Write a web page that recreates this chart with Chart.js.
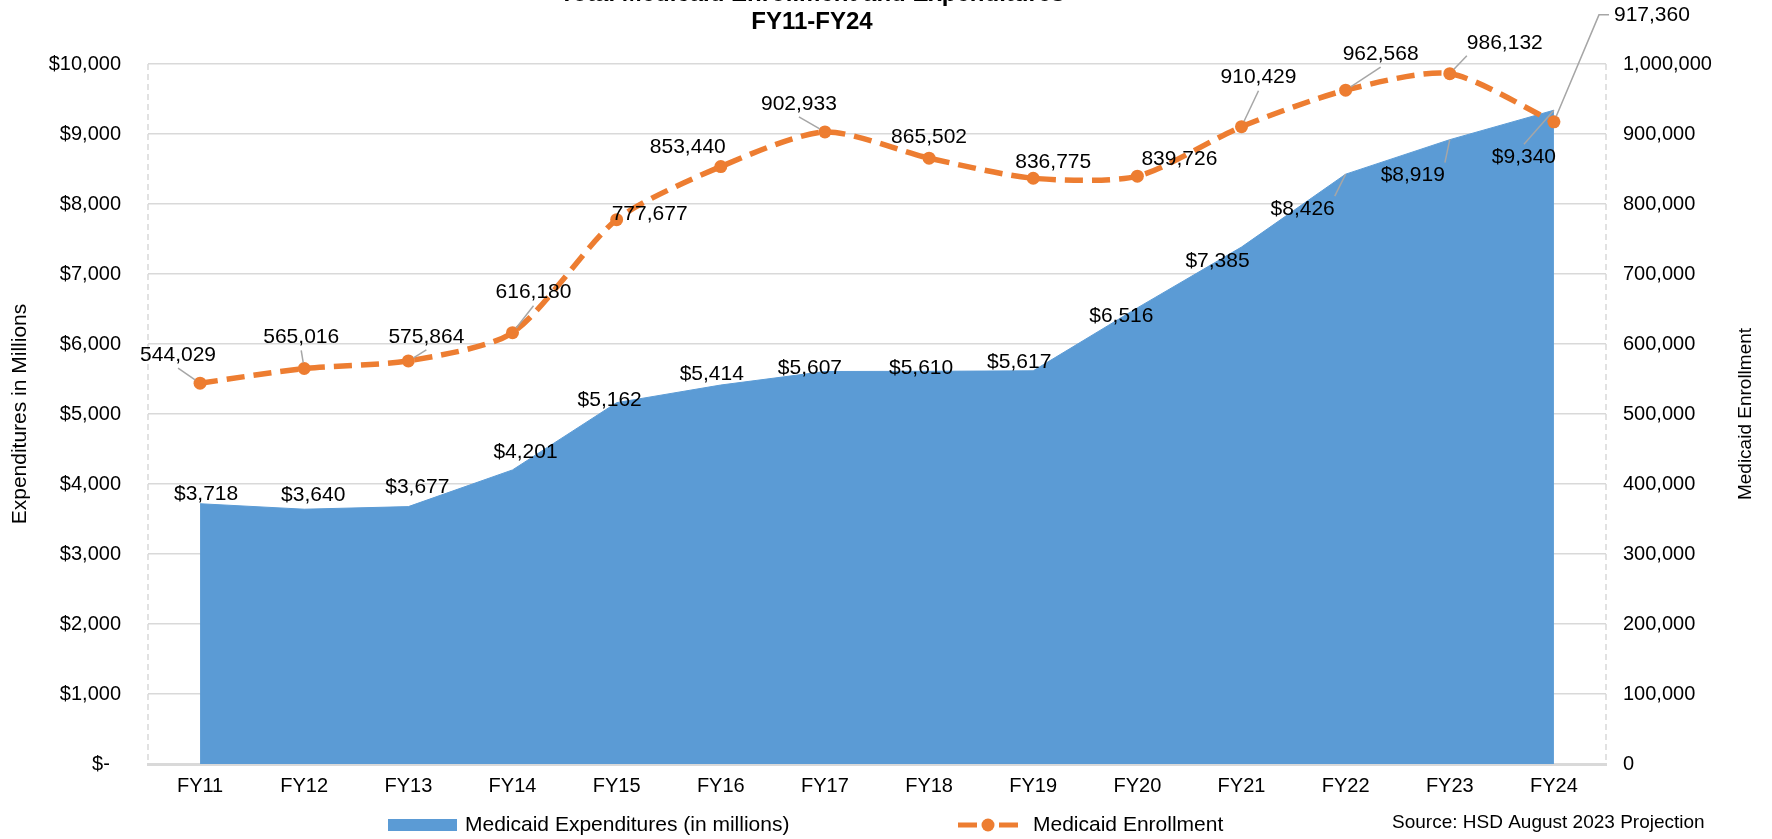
<!DOCTYPE html>
<html>
<head>
<meta charset="utf-8">
<script src="https://cdn.jsdelivr.net/npm/chart.js@4.4.1/dist/chart.umd.min.js"></script>
<style>
  html, body { margin: 0; padding: 0; background: #fff; overflow: hidden; }
  #wrap { width: 1772px; height: 839px; position: relative; }
</style>
</head>
<body>
<div id="wrap"><canvas id="chart"></canvas></div>
<script>
const FONT = '"Liberation Sans", Arial, sans-serif';

const categories = ['FY11', 'FY12', 'FY13', 'FY14', 'FY15', 'FY16', 'FY17',
                    'FY18', 'FY19', 'FY20', 'FY21', 'FY22', 'FY23', 'FY24'];
const expenditures = [3718, 3640, 3677, 4201, 5162, 5414, 5607, 5610, 5617, 6516, 7385, 8426, 8919, 9340];
const enrollment = [544029, 565016, 575864, 616180, 777677, 853440, 902933,
                    865502, 836775, 839726, 910429, 962568, 986132, 917360];

const titleLines = ['Total Medicaid Enrollment and Expenditures', 'FY11-FY24'];
const sourceNote = 'Source: HSD August 2023 Projection';

// where each data label sits relative to its point (px), and whether it gets a leader line
const enrollLabelOffsets = [[-22, -28], [-3, -31], [18, -24], [21, -40], [33, -5], [-33, -19], [-26, -28],
                            [0, -21], [20, -16], [42, -17], [17, -49], [35, -36], [55, -31], [98, -107]];
const enrollLeaders = [1, 1, 1, 1, 0, 0, 1, 0, 0, 1, 1, 1, 1, 1];
const expLabelOffsets = [[6, -10], [9, -14], [9, -19], [13, -18], [-7, -2], [-9, -11], [-15, -3],
                         [-8, -3], [-14, -9], [-16, 8], [-24, 14], [-43, 35], [-37, 36], [-30, 47]];
const expLeaders = [0, 0, 0, 0, 0, 0, 0, 0, 0, 0, 0, 1, 1, 1];

const fmt = v => v.toLocaleString('en-US');

// Data labels with leader lines
const labelPlugin = {
    id: 'pointLabels',
    afterDatasetsDraw(chart) {
        const ctx = chart.ctx;
        ctx.save();
        ctx.font = '21px ' + FONT;
        ctx.textAlign = 'center';
        ctx.textBaseline = 'middle';

        function leader(pt, cx, cy, w, h, shorten) {
            const gap = 5;
            const l = cx - w / 2, r = cx + w / 2, t = cy - h / 2, b = cy + h / 2;
            const pts = [];
            if (pt.x >= l && pt.x <= r) {
                pts.push([cx, pt.y > cy ? b + gap : t - gap]);
            } else if (pt.y >= t && pt.y <= b) {
                pts.push([pt.x < cx ? l - gap : r + gap, cy]);
            } else if (Math.abs(pt.x - (pt.x < cx ? l : r)) > 40) {
                // far to the side: short horizontal stub first
                const sx = pt.x < cx ? l - gap : r + gap;
                const dir = pt.x < cx ? -1 : 1;
                pts.push([sx, cy], [sx + dir * 10, cy]);
            } else {
                pts.push([pt.x < cx ? l : r, pt.y > cy ? b + gap : t - gap]);
            }
            const [ax, ay] = pts[pts.length - 1];
            const d = Math.hypot(pt.x - ax, pt.y - ay);
            const k = Math.max(0, (d - shorten) / d);
            pts.push([ax + (pt.x - ax) * k, ay + (pt.y - ay) * k]);
            ctx.strokeStyle = '#A6A6A6';
            ctx.lineWidth = 1.5;
            ctx.setLineDash([]);
            ctx.beginPath();
            pts.forEach(([x, y], j) => j ? ctx.lineTo(x, y) : ctx.moveTo(x, y));
            ctx.stroke();
        }

        function drawSet(idx, texts, offsets, leaders, shorten) {
            chart.getDatasetMeta(idx).data.forEach((pt, i) => {
                const cx = pt.x + offsets[i][0];
                const cy = pt.y + offsets[i][1];
                const w = ctx.measureText(texts[i]).width;
                if (leaders[i]) leader(pt, cx, cy, w, 16, shorten);
                ctx.fillStyle = '#000';
                ctx.fillText(texts[i], cx, cy);
            });
        }

        drawSet(1, expenditures.map(v => '$' + fmt(v)), expLabelOffsets, expLeaders, 0);
        drawSet(0, enrollment.map(fmt), enrollLabelOffsets, enrollLeaders, 6);
        ctx.restore();
    }
};

// Dashed side axes
const sideAxesPlugin = {
    id: 'sideAxes',
    beforeDatasetsDraw(chart) {
        const { ctx, chartArea } = chart;
        ctx.save();
        ctx.strokeStyle = '#D9D9D9';
        ctx.lineWidth = 1.5;
        ctx.setLineDash([6, 4]);
        [chartArea.left, chartArea.right].forEach(x => {
            ctx.beginPath();
            ctx.moveTo(x, chartArea.top);
            ctx.lineTo(x, chartArea.bottom);
            ctx.stroke();
        });
        ctx.restore();
    }
};

// Title, right axis title, legend and source note
const framePlugin = {
    id: 'frame',
    afterDraw(chart) {
        const ctx = chart.ctx;
        const area = chart.data.datasets[1];
        const line = chart.data.datasets[0];
        const ca = chart.chartArea;
        ctx.save();

        ctx.fillStyle = '#000';
        ctx.textAlign = 'center';
        ctx.textBaseline = 'alphabetic';
        ctx.font = 'bold 24px ' + FONT;
        ctx.fillText(titleLines[0], 812, 1);
        ctx.fillText(titleLines[1], 812, 29);

        // right axis title, reading bottom to top
        ctx.save();
        ctx.translate(1746, (ca.top + ca.bottom) / 2);
        ctx.rotate(-Math.PI / 2);
        ctx.textBaseline = 'middle';
        ctx.font = '19px ' + FONT;
        ctx.fillText('Medicaid Enrollment', 0, 0);
        ctx.restore();

        // legend
        const ly = 825;
        ctx.fillStyle = area.backgroundColor;
        ctx.fillRect(388, ly - 6, 69, 12);
        ctx.strokeStyle = line.borderColor;
        ctx.lineWidth = 5;
        ctx.beginPath();
        ctx.moveTo(958, ly);
        ctx.lineTo(977, ly);
        ctx.moveTo(999, ly);
        ctx.lineTo(1018, ly);
        ctx.stroke();
        ctx.fillStyle = line.borderColor;
        ctx.beginPath();
        ctx.arc(988, ly, 6.5, 0, Math.PI * 2);
        ctx.fill();

        ctx.fillStyle = '#000';
        ctx.textAlign = 'left';
        ctx.textBaseline = 'middle';
        ctx.font = '21px ' + FONT;
        ctx.fillText(area.label, 465, ly);
        ctx.fillText(line.label, 1033, ly);

        ctx.font = '19px ' + FONT;
        ctx.fillText(sourceNote, 1392, 823);
        ctx.restore();
    }
};

new Chart(document.getElementById('chart'), {
    type: 'line',
    data: {
        labels: categories,
        datasets: [
            {
                label: 'Medicaid Enrollment',
                data: enrollment,
                yAxisID: 'y2',
                borderColor: '#ED7D31',
                backgroundColor: '#ED7D31',
                borderWidth: 5.5,
                borderDash: [18, 9],
                tension: 0.25,
                pointRadius: 6.5,
                pointBorderWidth: 0,
                pointBackgroundColor: '#ED7D31',
                fill: false
            },
            {
                label: 'Medicaid Expenditures (in millions)',
                data: expenditures,
                yAxisID: 'y',
                borderColor: '#5B9BD5',
                backgroundColor: '#5B9BD5',
                borderWidth: 1,
                pointRadius: 0,
                tension: 0,
                fill: 'origin'
            }
        ]
    },
    options: {
        responsive: true,
        maintainAspectRatio: false,
        animation: false,
        events: [],
        layout: { padding: { top: 64, left: 0, right: 0, bottom: 0 } },
        plugins: {
            legend: { display: false },
            title: { display: false },
            tooltip: { enabled: false }
        },
        scales: {
            x: {
                offset: true,
                grid: { display: false },
                border: { display: true, color: '#D9D9D9', width: 3 },
                ticks: { color: '#000', font: { family: FONT, size: 20 }, padding: 2, maxRotation: 0 },
                afterFit: s => { s.height = 75; }
            },
            y: {
                position: 'left',
                min: 0,
                max: 10000,
                grid: { color: '#D9D9D9', lineWidth: 1.5, drawTicks: false },
                border: { display: false },
                ticks: {
                    stepSize: 1000,
                    padding: 27,
                    color: '#000',
                    font: { family: FONT, size: 20 },
                    callback: v => v === 0 ? '$-  ' : '$' + fmt(v)
                },
                title: {
                    display: true,
                    text: 'Expenditures in Millions',
                    color: '#000',
                    font: { family: FONT, size: 21 },
                    padding: { top: 8, bottom: 0 }
                },
                afterFit: s => { s.width = 148; }
            },
            y2: {
                position: 'right',
                min: 0,
                max: 1000000,
                grid: { drawOnChartArea: false, drawTicks: false },
                border: { display: false },
                ticks: {
                    stepSize: 100000,
                    padding: 17,
                    color: '#000',
                    font: { family: FONT, size: 20 },
                    callback: v => fmt(v)
                },
                afterFit: s => { s.width = 166; }
            }
        }
    },
    plugins: [sideAxesPlugin, labelPlugin, framePlugin]
});
</script>
</body>
</html>
